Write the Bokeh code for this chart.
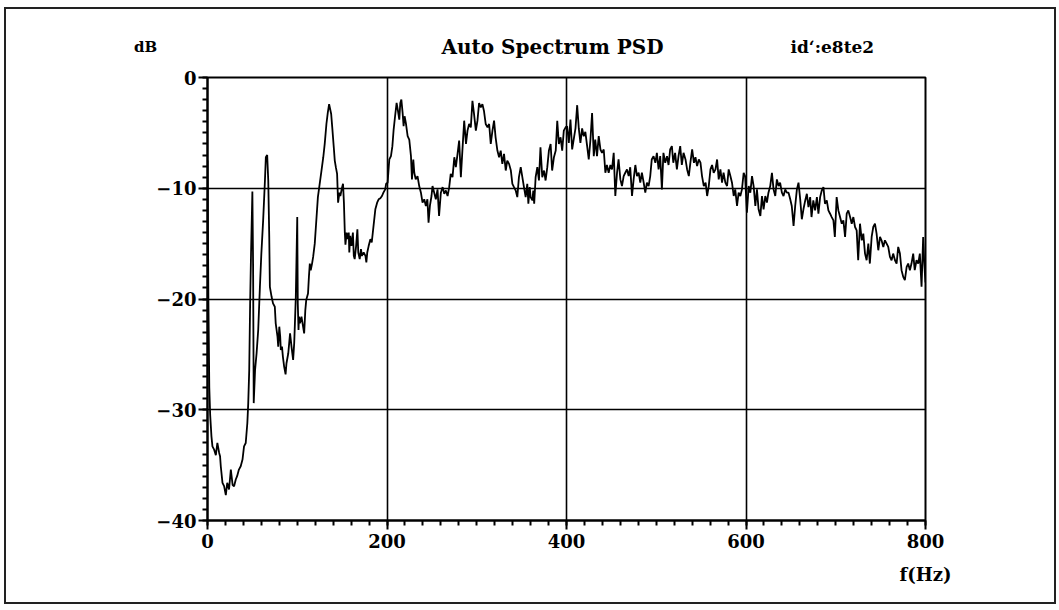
from bokeh.plotting import figure
from bokeh.models import FixedTicker, LinearAxis, Range1d
from bokeh.layouts import column
from bokeh.core.properties import value
from bokeh.embed import file_html
from bokeh.resources import INLINE

# ---- data (frequency in Hz, level in dB) ----
freq_hz = [
    0, 1, 2, 3, 4.4, 5.5, 7.4, 9.3, 11, 13, 14, 14.8, 16.7, 18.5, 20.4, 22, 24, 26, 28, 29.6,
    31.5, 33, 35, 37, 39, 40.7, 42.6, 44.4, 45.4, 46.5, 47.5, 48.5, 50, 50.8, 51.5, 53, 54.7, 56.5, 58.4, 60,
    62, 64, 65, 66.5, 67.7, 68.8, 69.5, 71.4, 73, 75, 76, 78, 78.8, 80, 81, 81.7, 83, 84, 85.4, 87,
    88, 90, 91, 92, 93.6, 95.4, 96.6, 97.4, 98.4, 100, 100.6, 101.4, 102, 103, 104.7, 106.5, 107.7, 109, 110, 112,
    113, 114, 115, 116.5, 117.7, 119.5, 121, 123, 125, 127, 129, 130.6, 132.5, 134, 135.5, 137.8, 139, 140.7, 141.8, 143,
    144.4, 145.5, 147, 148, 150, 151, 152, 153, 153.7, 155, 156, 157.4, 158, 159, 160.4, 162, 163, 164, 165.6, 167,
    168, 169.6, 171, 172, 174, 176, 177, 178, 179.6, 181.5, 183, 185, 187, 189, 190.7, 192.6, 194.4, 196, 198, 199,
    200.7, 202, 202.6, 204.4, 206, 207.4, 209, 210.7, 212, 213.7, 214.8, 216, 217.4, 218.5, 219.6, 221, 223, 224.8, 226.7, 227.8,
    229.3, 230.4, 232, 234, 235.9, 237.8, 239.6, 241.5, 243.3, 245, 246.3, 247.8, 249.6, 250.7, 252.6, 254.4, 256.3, 258, 260, 262,
    263.8, 265.6, 267.5, 269.3, 271, 273, 275, 276.7, 278.6, 280.4, 282.3, 284, 286, 288, 289.7, 291.5, 293.4, 295.2, 297, 299,
    300.8, 302.6, 304.5, 306.3, 308, 310, 312, 313.8, 315.6, 317.5, 319.3, 321, 323, 324.9, 326.7, 328.5, 330.4, 332.3, 334, 336,
    338, 339.7, 341.5, 343.4, 345.2, 347, 349, 350.8, 352.6, 354.5, 356.3, 357.5, 359, 360, 362, 363, 364, 365.6, 367.5, 369.3,
    371, 373, 375, 376.7, 378.6, 380.4, 382.3, 384, 386, 388, 389.7, 391.5, 393.4, 395.2, 397, 399, 400.7, 402.6, 404.4, 406.3,
    408, 410, 411.9, 413.7, 415.5, 417.4, 419.2, 421, 423, 424.8, 426.7, 428.5, 430.4, 432, 434, 435.9, 437.8, 439.6, 441.5, 443.3,
    445, 447, 448.9, 450.7, 452.6, 454.4, 456.3, 458, 460, 461.8, 463.7, 465.5, 467.4, 469.3, 471, 473, 474.8, 476.7, 478.5, 480.4,
    482.2, 484, 486, 487.8, 489.6, 491.5, 493.3, 495, 497, 499, 500.7, 502.6, 504.4, 506.3, 508, 510, 512, 513.7, 515.5, 517.4,
    519, 521, 523, 524.8, 526.7, 528.5, 530.4, 532.6, 534.4, 536.3, 538, 540, 542, 543.7, 545.5, 547.4, 549.3, 551, 553, 555,
    556.7, 558.5, 560.4, 562.2, 564, 566, 567.8, 569.6, 571.5, 573.3, 575, 577, 578.9, 580.7, 582.6, 584.4, 586.3, 588, 590, 591.8,
    593.7, 595.5, 597.4, 599, 601, 603, 604.8, 606.7, 608.5, 610.4, 612.2, 614, 616, 617.8, 619.6, 621.5, 623.3, 625, 627, 628.9,
    630.7, 632.6, 634.4, 636.3, 638, 640, 641.8, 643.7, 645.5, 647.4, 649.3, 651, 653, 654.8, 656.7, 658.5, 660.4, 662.2, 664, 666,
    667.8, 669.6, 671.5, 673, 675, 677, 679, 680.7, 682.6, 684.4, 686.3, 688, 690, 691.8, 693.7, 695.5, 697.4, 699, 701, 702.9,
    704.8, 706.7, 708.5, 710.4, 712.2, 714, 716, 717.8, 719.6, 721.5, 723.3, 725, 727, 729, 730.7, 732.6, 734.4, 736.3, 738, 740,
    741.8, 743.7, 745.5, 747.4, 749.3, 751, 753, 754.8, 756.7, 758.5, 760.4, 762.2, 764, 766, 767.8, 769.6, 771.5, 773.3, 775.2, 777,
    779, 780.7, 782.6, 784.4, 786.3, 788, 790, 791.9, 793.7, 795.6, 797.4, 798.5, 799.3, 800,
]
level_db = [
    -7.5, -20, -28, -30.5, -32.4, -33.3, -33.6, -34.1, -33, -33.9, -34.2, -35.1, -36.6, -36.9, -37.7, -36.6, -37.2, -35.4, -36.8, -36.9,
    -36.3, -36, -35.4, -35.1, -34.5, -33.3, -33, -31.2, -29.4, -26.4, -20.4, -15.9, -10.3, -17, -29.4, -26.4, -24.9, -22.8, -18.9, -15.9,
    -12.9, -9.3, -7.2, -7, -9.3, -14.4, -18.9, -19.8, -20.4, -20.7, -22.2, -23.4, -24.3, -22.5, -23.4, -24.6, -24.3, -25.2, -26.1, -26.8,
    -25.8, -24.9, -24, -23.1, -24.3, -25.5, -24, -22.2, -19.8, -12.6, -20.4, -22.8, -21.6, -22.2, -21.6, -22.5, -23.1, -21, -20.1, -19.5,
    -18, -16.8, -17.4, -16.8, -16.2, -15, -13.2, -10.8, -9.6, -8.4, -7.2, -6, -4.2, -3.2, -2.4, -3.3, -4.5, -6.3, -7.5, -8.1,
    -8.7, -11.3, -10.4, -10.7, -9.9, -9.6, -11.3, -14, -15.1, -14, -14.6, -14, -15.8, -14.3, -15.2, -14, -16.1, -16.4, -15.2, -13.7,
    -15.8, -16.4, -15.5, -16.1, -15.8, -16.1, -16.7, -15.8, -15.2, -14.6, -14.9, -13.4, -11.9, -11.3, -11, -10.9, -10.7, -10.4, -10.1, -9.6,
    -9.5, -8, -7.4, -7.1, -6.2, -4.7, -3.5, -2.3, -2.9, -3.8, -2.3, -2, -3.2, -4.4, -3.5, -4.1, -5.3, -5.6, -7.1, -9.2,
    -7.4, -8.6, -9.2, -8.9, -9.8, -10.4, -11.3, -11, -11.6, -11, -13.1, -11.6, -10.7, -9.8, -10.4, -11, -10.1, -12.5, -10.4, -9.9,
    -10.5, -10.2, -10.7, -9.9, -8.7, -9, -7.2, -8.1, -6.9, -5.7, -9, -6.6, -3.9, -6, -4.8, -4.2, -4.5, -2.1, -3.3, -4.8,
    -3.9, -2.3, -2.7, -2.4, -3, -4.2, -4.5, -4.2, -6, -4.8, -3.9, -5.4, -6.6, -7.2, -6.6, -7.8, -6.9, -8.4, -7.5, -7.8,
    -8.4, -9.6, -9.9, -10.2, -10.8, -9, -8.1, -9, -9.9, -10.8, -9.6, -11.4, -9.9, -10.8, -11.1, -10.2, -11.4, -9, -8.1, -9.3,
    -6.3, -9, -8.4, -9.3, -8.1, -6.6, -6, -8.4, -7.2, -6.6, -3.9, -6, -5.4, -6.6, -4.8, -4.5, -4.4, -5.9, -3.8, -6.5,
    -5.6, -4.6, -2.5, -4.6, -5.9, -4.6, -5.3, -4.9, -6.2, -7.4, -5.6, -3.2, -7.1, -5.6, -7.1, -5.3, -6.5, -6.8, -6.5, -8.6,
    -7.9, -8.6, -7.9, -8.3, -6.8, -10.7, -8.6, -7.4, -9.2, -9.8, -8.9, -8.6, -8.3, -8.9, -8.1, -10.7, -9.2, -7.9, -8.9, -8.6,
    -9.5, -8.6, -9.5, -10.4, -9.5, -9.8, -8.9, -7.4, -7.1, -7.7, -6.8, -8.3, -7.1, -10.1, -6.8, -7.7, -7.1, -7.9, -6.5, -6.2,
    -7.7, -6.8, -8.3, -7.1, -6.2, -7.9, -6.8, -7.4, -8.3, -8.9, -7.7, -6.5, -7.7, -7.2, -8, -7.4, -7.7, -8.9, -9.8, -9.5,
    -10.7, -9.8, -8.3, -7.9, -8.6, -8.3, -7.4, -9.2, -8.3, -9.5, -8.6, -9.5, -9.8, -8.3, -8.9, -9.5, -10.7, -10.1, -11.6, -10.4,
    -10.7, -10.1, -8.6, -8.9, -12.2, -9.8, -10.4, -8.9, -9.8, -11.6, -10.1, -11.9, -12.5, -10.7, -11.9, -10.7, -11.3, -10.4, -9.8, -8.6,
    -10.1, -10.7, -9.2, -9.8, -9.5, -10.4, -10.7, -10.1, -10.4, -10.4, -11, -11.6, -13.4, -11.6, -10.1, -9.5, -11, -12.8, -11.9, -11.1,
    -10.5, -11.7, -10.8, -12.6, -11.1, -12, -10.8, -12.3, -10.8, -10.2, -9.9, -11.4, -11.1, -12, -12.3, -12.6, -12.9, -14.4, -10.8, -12,
    -12.6, -13.2, -12.9, -14.4, -12.3, -12, -12.6, -13.2, -12.6, -13.5, -13.8, -16.5, -13.2, -14.7, -14.1, -15.9, -16.5, -15, -16.8, -14.4,
    -13.5, -13.2, -14.1, -15.6, -14.4, -14.7, -15.3, -14.7, -15, -15.3, -16.2, -16.5, -15.9, -16.5, -16.8, -15.3, -15.9, -17.4, -18, -18.3,
    -17.1, -16.8, -17.4, -16.8, -15.9, -17.4, -16.5, -16.8, -15.9, -18.9, -14.4, -16.5, -17.7, -18.5,
]

x_ticks = [0, 200, 400, 600, 800]
x_tick_labels = ["0", "200", "400", "600", "800"]
y_ticks = [-40, -30, -20, -10, 0]
y_tick_labels = ["\u221240", "\u221230", "\u221220", "\u221210", "0"]
x_minor = list(range(0, 801, 20))
y_minor = list(range(-40, 1, 1))

title_text = "Auto Spectrum PSD"
y_unit = "dB"
x_unit = "f(Hz)"
id_text = "id\u2018:e8te2"

FONT = "DejaVu Serif"
W = 1048            # content width (inside the outer frame line)
H_HDR = 56          # header strip holding the top texts
H_MAIN = 537        # main chart
BL, BR, BT, BB = 201, 129, 12, 82
TXT_Y = 19          # text centre line, measured up from the header bottom

# ---------------- header strip (texts above the chart) ----------------
hdr = figure(width=W, height=H_HDR, output_backend="svg", toolbar_location=None,
             x_range=Range1d(0, W), y_range=Range1d(0, H_HDR),
             x_axis_type=None, y_axis_type=None, min_border=0)
hdr.frame_align = False
hdr.grid.visible = False
hdr.outline_line_color = None
hdr.background_fill_color = "white"
hdr.border_fill_color = "white"
txt = dict(text_font=value(FONT), text_font_style="bold", text_color="black",
           text_baseline="middle")
hdr.text(x=[139], y=[TXT_Y], text=[y_unit], text_align="center", text_font_size="15px", **txt)
hdr.text(x=[546], y=[TXT_Y], text=[title_text], text_align="center", text_font_size="20px", **txt)
hdr.text(x=[784], y=[TXT_Y], text=[id_text], text_align="left", text_font_size="17px", **txt)

# ---------------- main chart ----------------
p = figure(width=W, height=H_MAIN, output_backend="svg", toolbar_location=None,
           x_range=(0, 800), y_range=(-40, 0))
p.min_border_left = BL
p.min_border_right = BR
p.min_border_top = BT
p.min_border_bottom = BB
p.background_fill_color = "white"
p.border_fill_color = "white"
p.outline_line_color = "black"
p.outline_line_width = 2

p.line(freq_hz, level_db, line_color="black", line_width=1.8)

p.xaxis.ticker = FixedTicker(ticks=x_ticks, minor_ticks=x_minor)
p.yaxis.ticker = FixedTicker(ticks=y_ticks, minor_ticks=y_minor)
p.xaxis.major_label_overrides = {t: s for t, s in zip(x_ticks, x_tick_labels)}
p.yaxis.major_label_overrides = {t: s for t, s in zip(y_ticks, y_tick_labels)}

for ax in (p.xaxis[0], p.yaxis[0]):
    ax.axis_line_color = "black"
    ax.axis_line_width = 2
    ax.major_tick_line_color = "black"
    ax.major_tick_line_width = 2
    ax.minor_tick_line_color = "black"
    ax.minor_tick_line_width = 2
    ax.major_tick_in = 0
    ax.major_tick_out = 9
    ax.minor_tick_in = 0
    ax.minor_tick_out = 5
    ax.major_label_text_font = FONT
    ax.major_label_text_font_style = "bold"
    ax.major_label_text_font_size = "18px"
    ax.major_label_text_color = "black"
p.xaxis.major_label_standoff = 4
p.yaxis.major_label_standoff = 2

# unit label under the last x tick, as a second bottom axis
unit_axis = LinearAxis(ticker=FixedTicker(ticks=[800], minor_ticks=[]),
                       major_label_overrides={800: x_unit})
unit_axis.axis_line_color = None
unit_axis.major_tick_line_color = None
unit_axis.minor_tick_line_color = None
unit_axis.major_label_standoff = 7
unit_axis.major_label_text_font = FONT
unit_axis.major_label_text_font_style = "bold"
unit_axis.major_label_text_font_size = "18px"
unit_axis.major_label_text_color = "black"
p.add_layout(unit_axis, "below")

p.xgrid.ticker = FixedTicker(ticks=x_ticks)
p.ygrid.ticker = FixedTicker(ticks=y_ticks)
for g in (p.xgrid[0], p.ygrid[0]):
    g.grid_line_color = "black"
    g.grid_line_width = 1.6
    g.grid_line_alpha = 1.0

layout = column(hdr, p, spacing=0)
layout.styles = {"border": "2px solid #222222", "margin-left": "4px", "margin-top": "7px"}

open("out.html", "w").write(file_html(layout, INLINE))
